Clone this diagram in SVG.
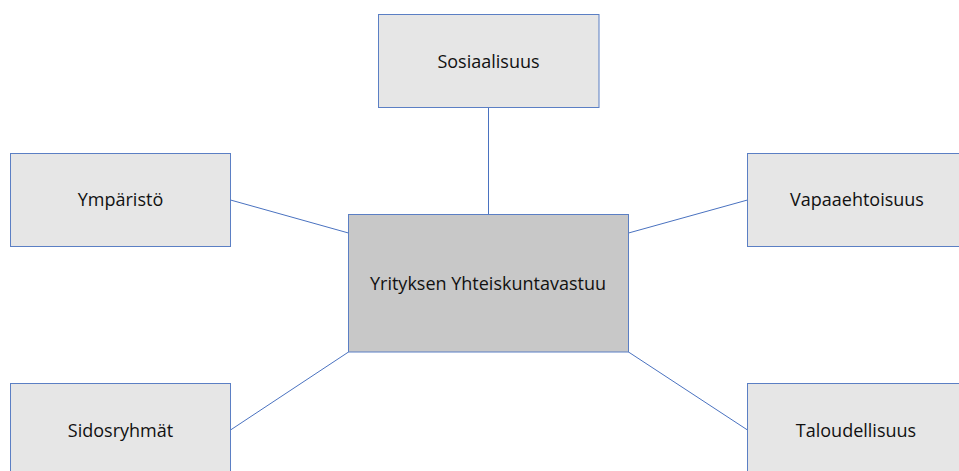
<svg xmlns="http://www.w3.org/2000/svg" width="959" height="471" viewBox="0 0 959 471">
<style>
.box{fill:#e6e6e6;stroke:#5b7fc4;stroke-width:1}
.center{fill:#c8c8c8;stroke:#5b7fc4;stroke-width:1}
.lbl{font-family:"Open Sans","Noto Sans",sans-serif;font-size:18px;fill:#111111;text-anchor:middle;dominant-baseline:central}
.con line{stroke:#4a72c0;stroke-width:1}
</style>
<rect width="959" height="471" fill="#ffffff"/>
<g id="connectors" class="con">
<line x1="488.5" y1="107.5" x2="488.5" y2="214.5"/>
<line x1="230.5" y1="200" x2="348.5" y2="233"/>
<line x1="628.5" y1="233" x2="747.5" y2="200"/>
<line x1="348.5" y1="352" x2="230.5" y2="430"/>
<line x1="628.5" y1="352" x2="747.5" y2="430"/>
</g>
<g id="sosiaalisuus"><rect class="box" x="378.5" y="14.5" width="220.5" height="93"/><text class="lbl" x="488.5" y="61">Sosiaalisuus</text></g>
<g id="ymparisto"><rect class="box" x="10.5" y="153.5" width="220" height="93"/><text class="lbl" x="120.5" y="199">Ympäristö</text></g>
<g id="vapaaehtoisuus"><rect class="box" x="747.5" y="153.5" width="220" height="93"/><text class="lbl" x="857" y="199">Vapaaehtoisuus</text></g>
<g id="yhteiskuntavastuu"><rect class="center" x="348.5" y="214.5" width="280" height="137.5"/><text class="lbl" x="488" y="283">Yrityksen Yhteiskuntavastuu</text></g>
<g id="sidosryhmat"><rect class="box" x="10.5" y="383.5" width="220" height="93"/><text class="lbl" x="120.5" y="430">Sidosryhmät</text></g>
<g id="taloudellisuus"><rect class="box" x="747.5" y="383.5" width="220" height="93"/><text class="lbl" x="856" y="430">Taloudellisuus</text></g>
</svg>
